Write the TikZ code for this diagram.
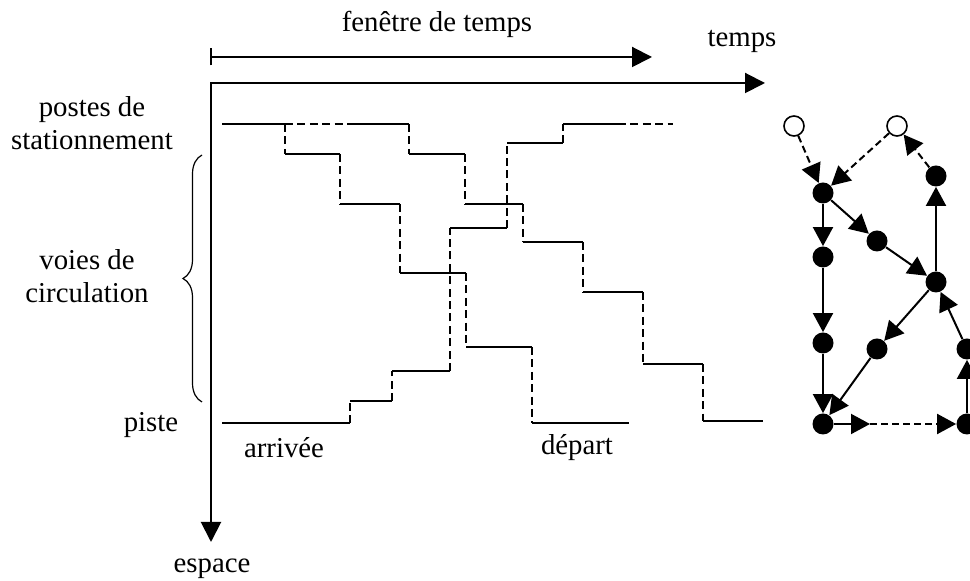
\documentclass[tikz,border=0pt]{standalone}
\usepackage{fontspec}
\setmainfont{Liberation Serif}
\usetikzlibrary{arrows.meta,decorations.pathreplacing}

\begin{document}
\begin{tikzpicture}[x=0.5pt,y=-0.5pt,font=\fontsize{14.4}{16.5}\selectfont,
ax/.style={line width=1pt,-{Triangle[length=10pt,width=10pt]}},
trj/.style={line width=0.9pt},
dsh/.style={line width=0.9pt,dash pattern=on 4pt off 2.2pt},
nd/.style={circle,fill=black,inner sep=0pt,minimum size=10.5pt},
op/.style={circle,draw=black,line width=0.8pt,fill=white,inner sep=0pt,minimum size=10pt},
ed/.style={line width=1pt,-{Triangle[length=9.5pt,width=10pt]}},
ded/.style={ed,dash pattern=on 3.5pt off 2pt}]
\useasboundingbox (0,0) rectangle (970,581);

% axes
\coordinate (o) at (211,83);
\coordinate (t) at (765,83);
\coordinate (s) at (211,542);
\draw[ax,{Triangle[length=10pt,width=10pt]}-{Triangle[length=10pt,width=10pt]}] (s) |- (t);
\coordinate (w0) at (210,57);
\coordinate (w1) at (652,57);
\draw[ax,{Bar[width=8.5pt]}-{Triangle[length=10pt,width=10pt]}] (w0) -- (w1);

\node[anchor=base] (win) at (437,32) {fenêtre de temps};
\node[anchor=base] (tps) at (742,47) {temps};
\node[anchor=base] (esp) at (212,573) {espace};
\node[align=center] (pst) at (92,123) {postes de\\stationnement};
\node[align=center] (voi) at (87,276) {voies de\\circulation};
\node[anchor=base] (pis) at (151,432) {piste};
\node[anchor=base] (arr) at (284,458) {arrivée};
\node[anchor=base] (dep) at (577,455) {départ};
\draw[line width=0.6pt,decorate,decoration={brace,amplitude=9.5pt}] (202,402) -- (202,155);

% trajectoires : roulage en trait plein, attente en tirets
\foreach \a/\b/\y in {222/285/124,285/340/154,340/400/204,400/466/273,466/532/347,532/629/423,
  353/409/124,409/465/154,465/523/204,523/583/242,583/643/292,643/703/364,703/763/421,
  222/350/423,350/392/401,392/450/371,450/507/228,507/563/143,563/618/124}
  \draw[trj] (\a,\y) -- (\b,\y);
\foreach \x/\u/\v in {285/124/154,340/154/204,400/204/273,466/273/347,532/347/423,
  409/124/154,465/154/204,523/204/242,583/242/292,643/292/364,703/364/421,
  350/423/401,392/401/371,450/371/228,507/228/143,563/143/124}
  \draw[dsh] (\x,\u) -- (\x,\v);
\draw[dsh] (285,124) -- (353,124);
\draw[dsh] (618,124) -- (673,124);

% graphe
\node[op] (o1) at (794,126) {};
\node[op] (o2) at (897,126) {};
\node[nd] (g1) at (823,193) {};
\node[nd] (g2) at (823,257) {};
\node[nd] (g3) at (877,241) {};
\node[nd] (g4) at (936,282) {};
\node[nd] (g5) at (823,343) {};
\node[nd] (g6) at (877,349) {};
\node[nd] (g7) at (967,349) {};
\node[nd] (g8) at (936,176) {};
\node[nd] (g9) at (823,424) {};
\node[nd] (g10) at (967,424) {};
\coordinate (m) at (870,424);
\foreach \a/\b in {g1/g2,g1/g3,g3/g4,g4/g8,g4/g6,g2/g5,g5/g9,g6/g9,g10/g7,g7/g4,g9/m}
  \draw[ed] (\a) -- (\b);
\foreach \a/\b in {o1/g1,o2/g1,g8/o2,m/g10}
  \draw[ded] (\a) -- (\b);
\end{tikzpicture}
\end{document}
